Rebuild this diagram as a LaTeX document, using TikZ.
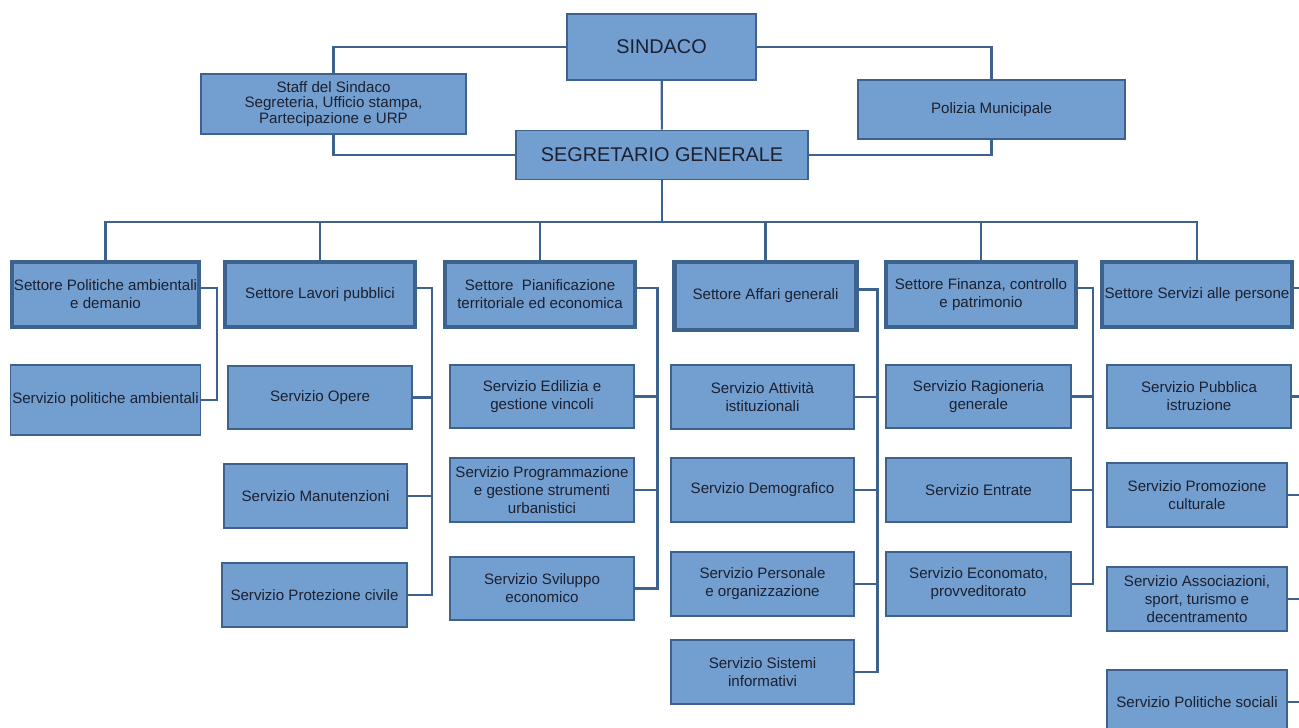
\documentclass[tikz,border=0pt]{standalone}
\usepackage{fontspec}
\setmainfont{Liberation Sans}
\usetikzlibrary{positioning}
\usetikzlibrary{calc}
\definecolor{boxfill}{RGB}{114,159,207}
\definecolor{boxline}{RGB}{62,98,142}
\definecolor{boxtext}{RGB}{28,32,48}

\begin{document}
\begin{tikzpicture}[
  box/.style={draw=boxline,fill=boxfill,text=boxtext,align=center,inner sep=1pt,
    line width=0.9pt,font=\fontsize{8.6}{10.3}\selectfont},
  head/.style={box,font=\fontsize{11.3}{13}\selectfont},
  settore/.style={box,line width=2.6pt,minimum width=3.8cm,minimum height=1.3cm},
  servizio/.style={box,minimum width=3.68cm,minimum height=1.27cm},
  link/.style={draw=boxline,line width=1.25pt}]

\useasboundingbox (0,0) rectangle (25.98,-14.56);
\clip (0,0) rectangle (25.98,-14.56);

% vertice
\node[head,minimum width=3.78cm,minimum height=1.32cm] (sindaco) at (13.23,-0.94) {SINDACO};
\node[box,minimum width=5.3cm,minimum height=1.2cm,font=\fontsize{8.6}{8.9}\selectfont] (staff) at (6.67,-2.08)
  {Staff del Sindaco\\Segreteria, Ufficio stampa,\\Partecipazione e URP};
\node[box,minimum width=5.34cm,minimum height=1.18cm] (polizia) at (19.83,-2.19) {Polizia Municipale};
\node[head,minimum width=5.84cm,minimum height=0.98cm] (segretario) at (13.24,-3.10) {SEGRETARIO GENERALE};

% settori
\node[settore,minimum width=3.74cm] (sec1) at (2.11,-5.89) {Settore Politiche ambientali\\e demanio};
\node[settore] (sec2) at (6.40,-5.89) {Settore Lavori pubblici};
\node[settore] (sec3) at (10.80,-5.89) {Settore~ Pianificazione\\territoriale ed economica};
\node[settore,minimum width=3.64cm,minimum height=1.36cm] (sec4) at (15.31,-5.92) {Settore Affari generali};
\node[settore] (sec5) at (19.62,-5.89) {Settore Finanza, controllo\\e patrimonio};
\node[settore] (sec6) at (23.94,-5.89) {Settore Servizi alle persone};

% servizi
\node[servizio,minimum width=3.78cm,minimum height=1.4cm] (s11) at (2.11,-8.00) {Servizio politiche ambientali};

\node[servizio] (s21) at (6.40,-7.95) {Servizio Opere};
\node[servizio,minimum width=3.66cm] (s22) at (6.31,-9.92) {Servizio Manutenzioni};
\node[servizio,minimum width=3.70cm] (s23) at (6.29,-11.90) {Servizio Protezione civile};

\node[servizio] (s31) at (10.84,-7.93) {Servizio Edilizia e\\gestione vincoli};
\node[servizio] (s32) at (10.84,-9.80) {Servizio Programmazione\\e gestione strumenti\\urbanistici};
\node[servizio] (s33) at (10.84,-11.77) {Servizio Sviluppo\\economico};

\node[servizio,minimum width=3.66cm] (s41) at (15.25,-7.94) {Servizio Attività\\istituzionali};
\node[servizio,minimum width=3.66cm] (s42) at (15.25,-9.80) {Servizio Demografico};
\node[servizio,minimum width=3.66cm] (s43) at (15.25,-11.68) {Servizio Personale\\e organizzazione};
\node[servizio,minimum width=3.66cm] (s44) at (15.25,-13.44) {Servizio Sistemi\\informativi};

\node[servizio,minimum width=3.70cm] (s51) at (19.57,-7.93) {Servizio Ragioneria\\generale};
\node[servizio,minimum width=3.70cm] (s52) at (19.57,-9.80) {Servizio Entrate};
\node[servizio,minimum width=3.70cm] (s53) at (19.57,-11.68) {Servizio Economato,\\provveditorato};

\node[servizio] (s61) at (23.98,-7.93) {Servizio Pubblica\\istruzione};
\node[servizio,minimum width=3.6cm] (s62) at (23.94,-9.90) {Servizio Promozione\\culturale};
\node[servizio,minimum width=3.6cm] (s63) at (23.94,-11.98) {Servizio Associazioni,\\sport, turismo e\\decentramento};
\node[servizio,minimum width=3.6cm] (s64) at (23.94,-14.04) {Servizio Politiche sociali};

% collegamenti in alto
\draw[link] (sindaco) -- (segretario);
\draw[link] (sindaco.west) -| (staff.north);
\draw[link] (sindaco.east) -| (polizia.north);
\draw[link] (staff.south) |- (segretario.west);
\draw[link] (polizia.south) |- (segretario.east);

\coordinate (bus) at (13.24,-4.44);
\draw[link] (segretario.south) -- (bus);
\draw[link] (sec1.north) |- (bus) -| (sec6.north);
\foreach \s in {sec2,sec3,sec4,sec5}
  \draw[link] (\s.north) -- (\s.north |- bus);

% colonne
\coordinate (t1) at (4.34,0);
\coordinate (t2) at (8.64,0);
\coordinate (t3) at (13.15,0);
\coordinate (t4) at (17.55,0);
\coordinate (t5) at (21.86,0);
\coordinate (t6) at (26.20,0);

\draw[link] ([yshift=1.3mm]sec1.east) -| (t1 |- s11.east) -- (s11.east);
\draw[link] ([yshift=1.3mm]sec2.east) -| (t2 |- s23.east) -- (s23.east);
\foreach \s in {s21,s22} \draw[link] (\s.east) -- (\s.east -| t2);
\draw[link] ([yshift=1.3mm]sec3.east) -| (t3 |- s33.east) -- (s33.east);
\foreach \s in {s31,s32} \draw[link] (\s.east) -- (\s.east -| t3);
\draw[link] ([yshift=1.3mm]sec4.east) -| (t4 |- s44.east) -- (s44.east);
\foreach \s in {s41,s42,s43} \draw[link] (\s.east) -- (\s.east -| t4);
\draw[link] ([yshift=1.3mm]sec5.east) -| (t5 |- s53.east) -- (s53.east);
\foreach \s in {s51,s52} \draw[link] (\s.east) -- (\s.east -| t5);
\draw[link] ([yshift=1.3mm]sec6.east) -| (t6 |- s64.east) -- (s64.east);
\foreach \s in {s61,s62,s63} \draw[link] (\s.east) -- (\s.east -| t6);

\end{tikzpicture}
\end{document}
